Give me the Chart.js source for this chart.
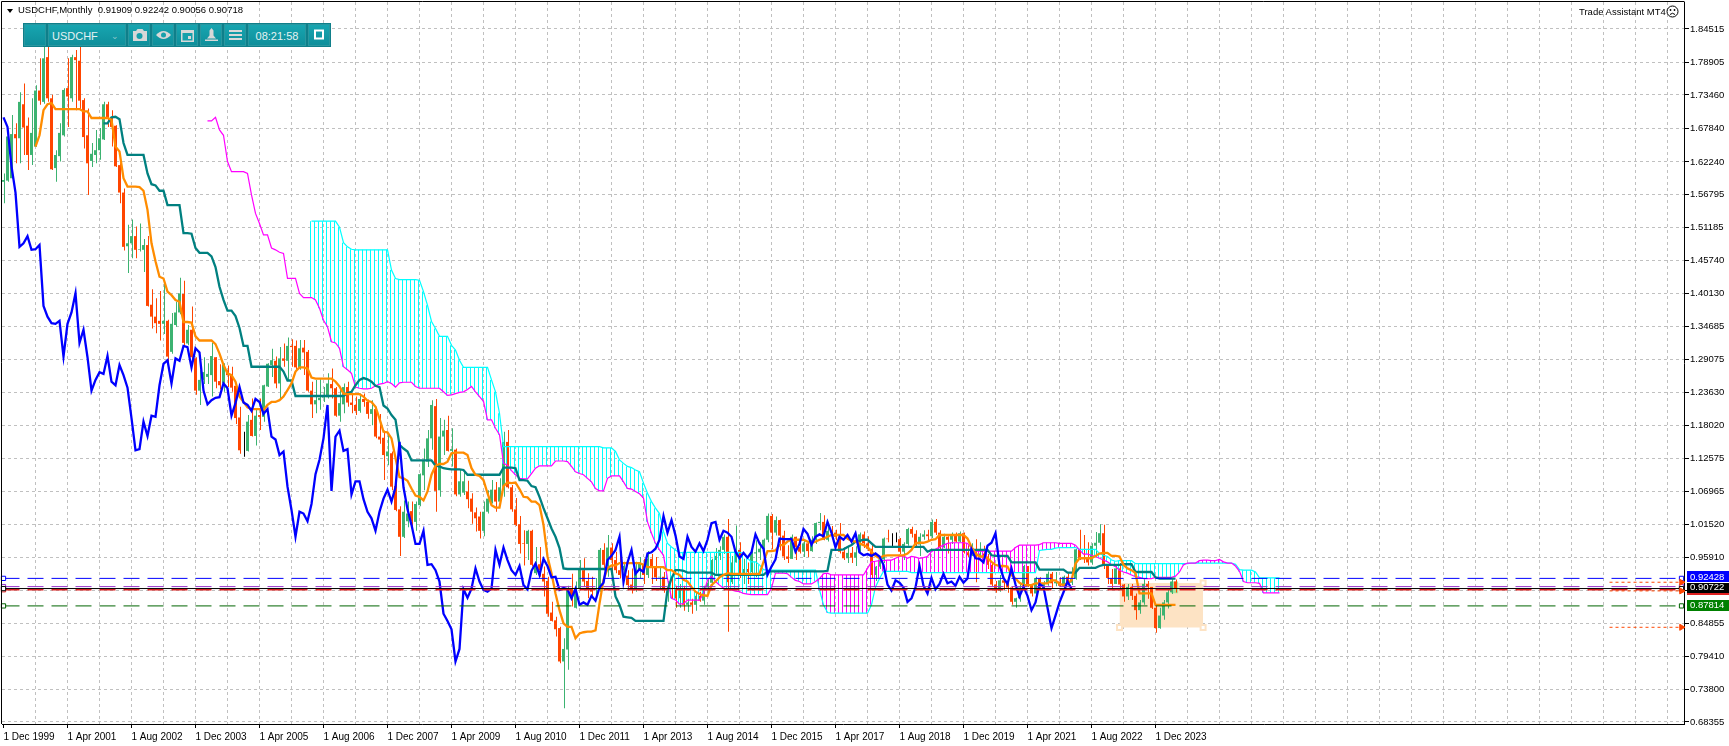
<!DOCTYPE html>
<html>
<head>
<meta charset="utf-8">
<title>USDCHF,Monthly</title>
<script src="https://cdn.jsdelivr.net/npm/chart.js@4/dist/chart.umd.js"></script>
<style>
  html, body { margin: 0; padding: 0; background: #fff; overflow: hidden; }
  #wrap { position: relative; width: 1729px; height: 746px; font-family: "Liberation Sans", sans-serif; }
  canvas { position: absolute; left: 0; top: 0; }
  .label { position: absolute; font-size: 9.5px; color: #000; white-space: pre; line-height: 12px; }
  #tri { position: absolute; left: 7px; top: 9px; width: 0; height: 0;
    border-left: 3.5px solid transparent; border-right: 3.5px solid transparent; border-top: 4px solid #000; }
  #frown { position: absolute; left: 1666px; top: 5px; }
  #bar { position: absolute; left: 23px; top: 23px; width: 308px; height: 24px; background: #0f7f8a; }
  #bar div { position: absolute; top: 1px; height: 22px; color: #e4f2f3; font-size: 11px; line-height: 22px;
    text-align: center; box-sizing: border-box; border: 1px solid #2a97a0;
    background: linear-gradient(#17a5b0, #0f8f9b); }
  #bar svg { display: block; margin: 3px auto 0; }
</style>
</head>
<body>
<div id="wrap">
  <canvas id="chart" width="1729" height="746"></canvas>
  <div id="tri"></div>
  <div class="label" style="left:18px;top:4px">USDCHF,Monthly  0.91909 0.92242 0.90056 0.90718</div>
  <div class="label" style="left:1579px;top:6px">Trade Assistant MT4</div>
  <svg id="frown" width="13" height="13"><circle cx="6.500" cy="6.500" r="5.500" fill="none" stroke="#000"/><circle cx="4.500" cy="5" r="0.900"/><circle cx="8.500" cy="5" r="0.900"/><path d="M4 9.500q2.500-2.500 5 0" fill="none" stroke="#000"/></svg>
  <div id="bar">
    <div style="left:1px;width:22px"></div>
    <div style="left:25px;width:78px;text-align:left;padding-left:3px">USDCHF<span style="position:absolute;right:6px;font-size:9px;color:#8fc7cc">⌄</span></div>
    <div style="left:105px;width:22px"><svg width="15" height="14"><path d="M1 3h3l1.500-2h5l1.500 2h3v10h-14z" fill="#d8d8d8"/><circle cx="7.500" cy="8" r="3" fill="#17a0ab"/></svg></div>
    <div style="left:129px;width:22px"><svg width="15" height="14"><path d="M0 7q7.500-8 15 0q-7.500 8-15 0z" fill="#d8d8d8"/><circle cx="7.500" cy="7" r="2.500" fill="#17a0ab"/></svg></div>
    <div style="left:153px;width:22px"><svg width="13" height="14"><path d="M0 2h13v12h-13z" fill="#d8d8d8"/><rect x="1.500" y="5" width="10" height="7.500" fill="#17a0ab"/><rect x="7" y="8" width="3" height="3" fill="#d8d8d8"/></svg></div>
    <div style="left:177px;width:22px"><svg width="13" height="14"><path d="M6.500 0l2 2.500v5l2.500 3h-9l2.500-3v-5zM0 11.500h13v1.500h-13z" fill="#d8d8d8"/></svg></div>
    <div style="left:201px;width:22px"><svg width="13" height="14"><path d="M0 2h13v2h-13zM0 6h13v2h-13zM0 10h13v2h-13z" fill="#d8d8d8"/></svg></div>
    <div style="left:225px;width:58px">08:21:58</div>
    <div style="left:285px;width:22px"><svg width="11" height="14"><rect x="1" y="2.500" width="8" height="8" fill="none" stroke="#fff" stroke-width="2"/></svg></div>
  </div>
</div>
<script>
"use strict";

const xLabels = ["1 Dec 1999", "1 Apr 2001", "1 Aug 2002", "1 Dec 2003", "1 Apr 2005", "1 Aug 2006", "1 Dec 2007",
  "1 Apr 2009", "1 Aug 2010", "1 Dec 2011", "1 Apr 2013", "1 Aug 2014", "1 Dec 2015", "1 Apr 2017", "1 Aug 2018",
  "1 Dec 2019", "1 Apr 2021", "1 Aug 2022", "1 Dec 2023"];
const yTicks = [1.84515, 1.78905, 1.73460, 1.67840, 1.62240, 1.56795, 1.51185, 1.45740, 1.40130, 1.34685, 1.29075,
  1.23630, 1.18020, 1.12575, 1.06965, 1.01520, 0.95910, 0.90465, 0.84855, 0.79410, 0.73800, 0.68355];

// monthly candles, bar 0 = Dec 1999
const opens = [
  1.589,1.591,1.595,1.669,1.662,1.719,1.683,1.634,1.648,1.742,
  1.723,1.798,1.729,1.612,1.632,1.667,1.746,1.729,1.798,1.792,
  1.726,1.667,1.624,1.634,1.642,1.660,1.719,1.697,1.683,1.617,
  1.571,1.481,1.486,1.498,1.475,1.475,1.483,1.383,1.363,1.356,
  1.351,1.356,1.304,1.349,1.370,1.401,1.318,1.341,1.293,1.239,
  1.257,1.262,1.265,1.295,1.255,1.251,1.273,1.267,1.247,1.194,
  1.141,1.138,1.190,1.163,1.198,1.195,1.246,1.282,1.289,1.251,
  1.293,1.289,1.314,1.314,1.278,1.311,1.304,1.239,1.216,1.223,
  1.227,1.228,1.250,1.243,1.197,1.216,1.245,1.219,1.215,1.205,
  1.225,1.220,1.200,1.208,1.162,1.160,1.129,1.134,1.079,1.040,
  .994,1.020,1.037,1.019,1.047,1.097,1.120,1.159,1.213,1.072,
  1.162,1.173,1.138,1.140,1.065,1.068,1.070,1.058,1.035,1.028,
  1.004,1.036,1.051,1.073,1.053,1.078,1.153,1.077,1.040,1.015,
  .983,.982,1.004,.933,.948,.932,.920,.867,.854,.841,
  .785,.805,.907,.875,.907,.938,.920,.906,.905,.905,
  .972,.944,.976,.955,.938,.938,.929,.914,.908,.937,
  .949,.930,.957,.945,.926,.927,.905,.908,.906,.891,
  .907,.880,.884,.880,.895,.887,.909,.917,.955,.962,
  .972,.994,.918,.951,.972,.932,.940,.935,.966,.968,
  .974,.989,1.029,1.001,1.022,.996,.961,.957,.994,.977,
  .969,.983,.970,.989,1.017,1.019,.989,1.004,1.001,.994,
  .969,.958,.967,.959,.968,.998,.983,.974,.930,.944,
  .956,.991,.990,.990,.990,.969,.982,1.007,.999,.981,
  .994,.998,.995,1.019,1.001,.976,.994,.989,.997,.986,
  1.000,.968,.963,.965,.962,.966,.961,.947,.914,.904,
  .921,.917,.909,.885,.891,.909,.945,.912,.899,.925,
  .906,.915,.932,.916,.919,.912,.927,.917,.924,.973,
  .958,.957,.951,.979,.984,1.000,.946,.925,.915,.941,
  .914,.894,.910,.895,.871,.884,.915,.910,.875,.841,
  .862,.884,.901,.91909];
const highs = [
  1.603,1.676,1.701,1.687,1.739,1.754,1.697,1.729,1.751,1.796,
  1.820,1.830,1.735,1.642,1.687,1.746,1.796,1.802,1.810,1.825,
  1.729,1.712,1.654,1.676,1.679,1.723,1.723,1.709,1.684,1.620,
  1.578,1.517,1.526,1.514,1.519,1.493,1.498,1.409,1.394,1.406,
  1.424,1.358,1.369,1.388,1.428,1.423,1.349,1.380,1.295,1.274,
  1.295,1.285,1.319,1.295,1.283,1.285,1.281,1.279,1.251,1.212,
  1.170,1.198,1.226,1.209,1.226,1.249,1.285,1.309,1.296,1.312,
  1.318,1.328,1.325,1.323,1.324,1.324,1.307,1.254,1.257,1.258,
  1.245,1.268,1.276,1.245,1.243,1.251,1.254,1.234,1.229,1.234,
  1.234,1.224,1.223,1.212,1.200,1.172,1.165,1.137,1.098,1.045,
  1.055,1.053,1.053,1.053,1.100,1.142,1.173,1.223,1.225,1.193,
  1.190,1.197,1.176,1.142,1.106,1.103,1.088,1.067,1.043,1.036,
  1.053,1.072,1.089,1.086,1.092,1.170,1.173,1.081,1.059,1.029,
  1.005,1.006,1.006,.977,.977,.944,.927,.885,.860,.843,
  .824,.912,.932,.919,.955,.958,.933,.927,.925,.975,
  .983,.997,.983,.969,.969,.952,.938,.941,.952,.960,
  .957,.970,.965,.960,.942,.935,.920,.925,.912,.915,
  .912,.890,.890,.900,.902,.912,.925,.957,.975,.978,
  .998,1.024,.962,1.013,.985,.957,.951,.970,.988,.985,
  .991,1.033,1.032,1.028,1.023,1.004,.980,.998,.994,.995,
  .990,.985,.995,1.018,1.034,1.030,1.014,1.012,1.006,1.017,
  .976,.979,.977,.978,1.001,1.003,.995,.981,.945,.960,
  .993,1.006,1.000,1.001,.992,.985,1.009,1.011,1.005,1.000,
  1.005,1.006,1.023,1.024,1.005,.999,.995,1.001,1.001,1.003,
  1.001,.980,.983,.990,.985,.979,.965,.951,.920,.930,
  .925,.920,.910,.892,.915,.947,.945,.915,.927,.926,
  .920,.936,.935,.935,.926,.929,.933,.943,.974,1.006,
  .997,.985,.983,1.002,1.015,1.014,.948,.940,.945,.950,
  .915,.915,.915,.899,.888,.923,.920,.910,.880,.875,
  .888,.907,.923,.92242];
const lows = [
  1.553,1.589,1.595,1.620,1.620,1.634,1.609,1.617,1.648,1.718,
  1.720,1.723,1.609,1.589,1.623,1.665,1.681,1.723,1.709,1.709,
  1.645,1.567,1.614,1.620,1.626,1.659,1.681,1.648,1.614,1.553,
  1.474,1.436,1.461,1.461,1.472,1.438,1.380,1.343,1.335,1.323,
  1.334,1.278,1.301,1.346,1.367,1.313,1.315,1.287,1.232,1.215,
  1.250,1.250,1.229,1.243,1.241,1.237,1.245,1.237,1.183,1.133,
  1.128,1.137,1.162,1.147,1.173,1.187,1.245,1.262,1.243,1.226,
  1.279,1.257,1.279,1.274,1.274,1.265,1.237,1.193,1.201,1.207,
  1.220,1.226,1.226,1.195,1.187,1.201,1.212,1.201,1.198,1.202,
  1.212,1.192,1.181,1.159,1.150,1.089,1.114,1.072,1.037,.962,
  .992,1.010,1.008,1.004,1.045,1.072,1.111,1.140,1.036,1.061,
  1.131,1.137,1.112,1.062,1.061,1.064,1.042,1.016,1.003,.991,
  .995,1.033,1.050,1.036,1.050,1.061,1.075,1.036,1.012,.966,
  .946,.955,.944,.930,.927,.894,.860,.852,.827,.782,
  .7065,.771,.877,.874,.905,.910,.891,.894,.896,.902,
  .938,.927,.933,.933,.924,.927,.908,.899,.902,.925,
  .915,.925,.915,.920,.905,.900,.885,.890,.875,.875,
  .870,.868,.865,.870,.885,.880,.903,.912,.932,.955,
  .965,.835,.915,.951,.925,.915,.915,.930,.926,.955,
  .950,.985,.973,.996,.971,.955,.950,.957,.955,.966,
  .960,.960,.969,.982,1.005,.988,.986,.990,.988,.966,
  .955,.950,.950,.945,.967,.975,.970,.925,.920,.940,
  .950,.985,.975,.985,.965,.955,.979,.993,.975,.962,
  .989,.988,.992,.997,.972,.975,.966,.982,.985,.985,
  .966,.960,.962,.918,.960,.961,.940,.911,.900,.902,
  .905,.900,.880,.875,.885,.905,.910,.894,.895,.905,
  .902,.912,.908,.911,.910,.905,.915,.913,.922,.955,
  .950,.946,.947,.960,.980,.940,.915,.906,.915,.905,
  .885,.888,.888,.855,.865,.880,.890,.873,.833,.840,
  .855,.874,.898,.90056];
const closes = [
  1.592,1.665,1.669,1.662,1.723,1.680,1.634,1.671,1.742,1.725,
  1.796,1.729,1.610,1.634,1.671,1.743,1.732,1.798,1.793,1.725,
  1.664,1.620,1.636,1.642,1.662,1.719,1.697,1.681,1.615,1.571,
  1.480,1.486,1.498,1.475,1.476,1.483,1.381,1.363,1.352,1.351,
  1.356,1.296,1.351,1.370,1.402,1.319,1.341,1.295,1.239,1.257,
  1.270,1.267,1.297,1.254,1.248,1.282,1.265,1.244,1.193,1.139,
  1.141,1.187,1.163,1.197,1.195,1.248,1.284,1.290,1.251,1.293,
  1.289,1.314,1.312,1.278,1.310,1.303,1.239,1.216,1.223,1.227,
  1.228,1.251,1.243,1.197,1.218,1.245,1.219,1.215,1.205,1.225,
  1.220,1.200,1.208,1.162,1.157,1.131,1.137,1.078,1.039,.994,
  1.036,1.033,1.020,1.049,1.099,1.123,1.159,1.215,1.071,1.162,
  1.172,1.138,1.141,1.065,1.087,1.087,1.057,1.036,1.025,1.004,
  1.036,1.058,1.073,1.053,1.077,1.153,1.077,1.040,1.014,.982,
  .982,1.004,.947,.948,.938,.919,.865,.853,.839,.785,
  .806,.906,.892,.907,.941,.919,.905,.902,.907,.972,
  .947,.976,.955,.938,.930,.945,.913,.906,.937,.949,
  .930,.957,.945,.926,.927,.905,.908,.906,.891,.907,
  .880,.884,.880,.895,.887,.909,.917,.955,.962,.972,
  .994,.918,.951,.972,.932,.940,.935,.966,.968,.974,
  .989,1.029,1.001,1.022,.996,.961,.957,.994,.977,.969,
  .983,.970,.989,1.017,1.019,.989,1.004,1.001,.994,.969,
  .958,.967,.959,.968,.998,.983,.974,.930,.944,.956,
  .991,.990,.990,.990,.969,.982,1.007,.999,.981,.994,
  .998,.995,1.019,1.001,.976,.994,.989,.997,.986,1.000,
  .968,.963,.965,.962,.966,.961,.947,.914,.904,.921,
  .917,.909,.885,.891,.909,.945,.912,.899,.925,.906,
  .915,.932,.916,.919,.912,.927,.917,.924,.973,.958,
  .957,.951,.979,.984,1.000,.946,.925,.915,.941,.914,
  .894,.910,.895,.871,.884,.915,.910,.875,.841,.862,
  .884,.901,.919,.90718];

// blue line, starts at bar 0
const chikou = [
  1.697,1.681,1.615,1.571,1.480,1.486,1.498,1.475,1.476,1.483,
  1.381,1.363,1.352,1.351,1.356,1.296,1.351,1.370,1.402,1.319,
  1.341,1.295,1.239,1.257,1.270,1.267,1.297,1.254,1.248,1.282,
  1.265,1.244,1.193,1.139,1.141,1.187,1.163,1.197,1.195,1.248,
  1.284,1.290,1.251,1.293,1.289,1.314,1.312,1.278,1.310,1.303,
  1.239,1.216,1.223,1.227,1.228,1.251,1.243,1.197,1.218,1.245,
  1.219,1.215,1.205,1.225,1.220,1.200,1.208,1.162,1.157,1.131,
  1.137,1.078,1.039,.994,1.036,1.033,1.020,1.049,1.099,1.123,
  1.159,1.215,1.071,1.162,1.172,1.138,1.141,1.065,1.087,1.087,
  1.057,1.036,1.025,1.004,1.036,1.058,1.073,1.053,1.077,1.153,
  1.077,1.040,1.014,.982,.982,1.004,.947,.948,.938,.919,
  .865,.853,.839,.785,.806,.906,.892,.907,.941,.919,
  .905,.902,.907,.972,.947,.976,.955,.938,.930,.945,
  .913,.906,.937,.949,.930,.957,.945,.926,.927,.905,
  .908,.906,.891,.907,.880,.884,.880,.895,.887,.909,
  .917,.955,.962,.972,.994,.918,.951,.972,.932,.940,
  .935,.966,.968,.974,.989,1.029,1.001,1.022,.996,.961,
  .957,.994,.977,.969,.983,.970,.989,1.017,1.019,.989,
  1.004,1.001,.994,.969,.958,.967,.959,.968,.998,.983,
  .974,.930,.944,.956,.991,.990,.990,.990,.969,.982,
  1.007,.999,.981,.994,.998,.995,1.019,1.001,.976,.994,
  .989,.997,.986,1.000,.968,.963,.965,.962,.966,.961,
  .947,.914,.904,.921,.917,.909,.885,.891,.909,.945,
  .912,.899,.925,.906,.915,.932,.916,.919,.912,.927,
  .917,.924,.973,.958,.957,.951,.979,.984,1.000,.946,
  .925,.915,.941,.914,.894,.910,.895,.871,.884,.915,
  .910,.875,.841,.862,.884,.901,.919,.907];

// orange line, starts at bar 8
const tenkan = [
  1.648,1.667,1.709,1.719,1.721,1.711,1.711,1.711,1.711,1.711,
  1.711,1.711,1.707,1.707,1.696,1.696,1.696,1.696,1.696,1.693,
  1.648,1.640,1.595,1.581,1.581,1.581,1.580,1.574,1.542,1.486,
  1.456,1.430,1.427,1.405,1.399,1.391,1.388,1.354,1.354,1.353,
  1.330,1.323,1.323,1.323,1.323,1.317,1.301,1.282,1.268,1.265,
  1.254,1.229,1.220,1.211,1.208,1.208,1.208,1.206,1.215,1.220,
  1.220,1.223,1.229,1.240,1.251,1.271,1.278,1.278,1.276,1.261,
  1.259,1.259,1.259,1.259,1.259,1.254,1.246,1.234,1.233,1.233,
  1.233,1.233,1.229,1.222,1.220,1.212,1.192,1.170,1.169,1.159,
  1.126,1.094,1.092,1.088,1.075,1.063,1.061,1.055,1.070,1.098,
  1.113,1.116,1.116,1.120,1.134,1.135,1.135,1.135,1.131,1.109,
  1.098,1.096,1.089,1.067,1.047,1.043,1.043,1.079,1.085,1.084,
  1.085,1.074,1.061,1.060,1.053,1.053,1.047,1.014,.961,.933,
  .899,.871,.849,.843,.843,.824,.832,.834,.835,.835,
  .837,.882,.922,.941,.946,.946,.950,.950,.950,.950,
  .950,.950,.947,.943,.943,.943,.943,.943,.938,.938,
  .933,.930,.922,.919,.910,.902,.898,.896,.895,.913,
  .919,.926,.930,.933,.932,.932,.932,.932,.932,.932,
  .932,.932,.952,.970,.970,.971,.980,.980,.986,.989,
  .989,.989,.989,.986,.984,.986,.989,.991,.994,.997,
  .997,.997,.997,.991,.987,.986,.983,.980,.977,.969,
  .962,.958,.962,.963,.963,.963,.963,.963,.966,.972,
  .983,.984,.984,.986,.989,.990,.997,.997,.997,.997,
  .997,.997,.997,.991,.977,.966,.961,.961,.958,.952,
  .947,.945,.945,.944,.930,.924,.917,.913,.913,.913,
  .916,.916,.916,.916,.921,.921,.915,.913,.916,.921,
  .949,.958,.958,.958,.958,.962,.966,.967,.967,.962,
  .962,.961,.947,.941,.938,.933,.899,.899,.899,.899,
  .880,.880,.880,.880,.880,.880];

// teal line, starts at bar 25
const kijun = [
  1.687,1.687,1.697,1.698,1.694,1.654,1.634,1.634,1.634,1.634,
  1.634,1.603,1.585,1.583,1.574,1.574,1.550,1.550,1.550,1.550,
  1.503,1.503,1.502,1.478,1.470,1.470,1.470,1.464,1.446,1.413,
  1.391,1.373,1.373,1.364,1.344,1.314,1.314,1.279,1.279,1.279,
  1.279,1.279,1.279,1.279,1.279,1.271,1.256,1.256,1.230,1.230,
  1.230,1.230,1.230,1.230,1.230,1.230,1.230,1.230,1.230,1.230,
  1.230,1.235,1.237,1.248,1.257,1.260,1.258,1.254,1.247,1.245,
  1.214,1.209,1.198,1.190,1.148,1.142,1.137,1.122,1.122,1.122,
  1.122,1.122,1.122,1.113,1.112,1.109,1.108,1.107,1.107,1.107,
  1.106,1.098,1.098,1.098,1.098,1.098,1.098,1.098,1.098,1.098,
  1.110,1.110,1.110,1.109,1.089,1.089,1.088,1.079,1.077,1.061,
  1.042,1.025,1.008,.994,.975,.941,.940,.940,.940,.940,
  .940,.940,.940,.940,.940,.940,.940,.940,.894,.880,
  .860,.859,.858,.853,.853,.853,.853,.853,.853,.853,
  .853,.905,.924,.938,.938,.937,.934,.934,.934,.934,
  .934,.934,.934,.930,.930,.930,.930,.930,.930,.930,
  .930,.930,.930,.930,.930,.930,.936,.936,.936,.936,
  .936,.936,.936,.936,.936,.936,.936,.936,.936,.936,
  .936,.937,.972,.972,.972,.973,.977,.980,.986,.987,
  .989,.989,.983,.977,.977,.977,.977,.977,.977,.977,
  .977,.977,.977,.977,.977,.977,.969,.972,.972,.972,
  .972,.972,.972,.972,.972,.972,.972,.972,.972,.972,
  .972,.972,.963,.962,.962,.962,.962,.951,.951,.951,
  .951,.951,.951,.951,.939,.939,.939,.939,.939,.939,
  .939,.934,.934,.934,.942,.942,.942,.942,.942,.945,
  .947,.947,.947,.947,.947,.948,.948,.948,.935,.935,
  .935,.935,.935,.926,.924,.924,.924,.924,.924];

// magenta cloud edge, starts at bar 51
const spanMagenta = [
  1.691,1.691,1.697,1.676,1.667,1.623,1.606,1.606,1.606,1.606,
  1.603,1.567,1.536,1.519,1.500,1.500,1.478,1.475,1.471,1.469,
  1.427,1.427,1.427,1.402,1.395,1.395,1.395,1.391,1.377,1.357,
  1.346,1.321,1.319,1.310,1.279,1.274,1.268,1.245,1.243,1.242,
  1.242,1.243,1.247,1.250,1.251,1.254,1.251,1.245,1.252,1.253,
  1.253,1.253,1.246,1.243,1.243,1.243,1.243,1.243,1.243,1.237,
  1.231,1.232,1.234,1.236,1.237,1.241,1.246,1.237,1.229,1.221,
  1.190,1.190,1.176,1.165,1.117,1.114,1.105,1.098,1.092,1.091,
  1.091,1.100,1.109,1.113,1.113,1.113,1.113,1.121,1.121,1.121,
  1.120,1.112,1.103,1.100,1.098,1.092,1.086,1.075,1.071,1.071,
  1.092,1.096,1.096,1.096,1.086,1.075,1.074,1.070,1.066,1.059,
  1.019,1.000,.983,.972,.963,.924,.891,.888,.881,.882,
  .888,.888,.888,.888,.899,.921,.928,.919,.913,.908,
  .906,.905,.903,.902,.899,.898,.897,.897,.897,.897,
  .897,.908,.933,.933,.933,.932,.926,.921,.919,.915,
  .915,.915,.919,.924,.932,.933,.930,.930,.930,.930,
  .930,.930,.930,.930,.930,.941,.952,.953,.954,.954,
  .955,.955,.958,.961,.962,.958,.961,.960,.958,.959,
  .961,.969,.973,.977,.980,.983,.984,.984,.984,.984,
  .983,.975,.970,.970,.970,.970,.970,.970,.970,.970,
  .970,.970,.976,.980,.980,.980,.980,.980,.981,.984,
  .984,.984,.984,.983,.983,.983,.983,.980,.972,.965,
  .965,.963,.961,.958,.955,.952,.947,.944,.938,.935,
  .933,.930,.927,.926,.924,.924,.924,.926,.926,.926,
  .926,.926,.928,.935,.947,.950,.950,.950,.954,.955,
  .955,.954,.954,.956,.952,.950,.950,.945,.936,.919,
  .917,.917,.917,.916,.900,.900,.900,.900,.900];

// cyan cloud edge, starts at bar 77
const spanCyan = [
  1.523,1.523,1.523,1.523,1.523,1.523,1.523,1.513,1.487,1.480,
  1.476,1.475,1.475,1.475,1.475,1.475,1.475,1.475,1.475,1.475,
  1.441,1.427,1.425,1.425,1.425,1.425,1.425,1.424,1.405,1.382,
  1.355,1.343,1.330,1.330,1.330,1.315,1.307,1.290,1.278,1.278,
  1.278,1.278,1.278,1.278,1.278,1.257,1.237,1.201,1.145,1.145,
  1.145,1.145,1.145,1.145,1.145,1.145,1.145,1.145,1.145,1.145,
  1.145,1.145,1.145,1.145,1.145,1.145,1.145,1.145,1.145,1.145,
  1.145,1.145,1.145,1.143,1.143,1.143,1.137,1.123,1.117,1.112,
  1.110,1.106,1.103,1.084,1.067,1.053,1.042,1.033,1.003,.983,
  .977,.972,.967,.968,.968,.968,.968,.968,.968,.968,
  .968,.968,.968,.968,.968,.968,.968,.968,.966,.958,
  .952,.952,.947,.939,.938,.938,.938,.938,.938,.938,
  .938,.938,.938,.938,.938,.938,.938,.905,.880,.867,
  .866,.866,.866,.866,.866,.866,.866,.866,.866,.866,
  .880,.910,.924,.936,.936,.936,.936,.936,.936,.936,
  .934,.934,.934,.934,.934,.934,.934,.934,.934,.934,
  .934,.934,.934,.934,.934,.934,.934,.934,.934,.934,
  .934,.934,.934,.934,.934,.934,.934,.934,.934,.934,
  .934,.934,.971,.972,.973,.973,.975,.976,.976,.976,
  .976,.976,.973,.973,.973,.973,.973,.966,.963,.961,
  .955,.953,.954,.954,.954,.954,.949,.949,.949,.949,
  .949,.949,.949,.949,.949,.949,.949,.949,.949,.949,
  .950,.950,.950,.950,.950,.950,.950,.950,.950,.950,
  .950,.948,.939,.938,.938,.938,.935,.925,.925,.925,
  .925,.925,.925];

const boxTop = 0.9165, boxBottom = 0.8418, boxFrom = 279, boxTo = 299.9;
const greenBoxTop = 0.9190, greenBoxBottom = 0.8995, greenBoxFrom = 291.8, greenBoxTo = 293.7;

const priceBlue = 0.92428, pricePurple = 0.9105, priceRed = 0.9052, priceBid = 0.90722, priceGreen = 0.87814;
const arrowLevels = [0.9178, 0.9033, 0.8423];

const UP = "#3cb371", DOWN = "#ff4500", BLUE = "#0000ff", ORANGE = "#ff8c00", TEAL = "#008080";
const CYAN = "#00ffff", MAGENTA = "#ff00ff", PEACH = "#fde3c4";
const GRID = "#c0c0c0";
const LEVEL_DASH = [16, 8];

// bar i is 4 px wide, bar 0 sits at x = 3.5; plot runs 2..1684 and 2..724
const xMin = -0.375, xMax = 420.125;
const yPerPx = (1.84515 - 0.68355) / 693;
const yMax = 1.84515 + 27 * yPerPx, yMin = 0.68355 - 2 * yPerPx;

const series = (vals, start) => vals.map((v, k) => ({ x: start + k, y: v }));
const candleColor = (i) => closes[i] === opens[i] ? "#000" : closes[i] > opens[i] ? UP : DOWN;

function lineSet(vals, start, color, width, order) {
  return { type: "line", data: series(vals, start), borderColor: color, borderWidth: width,
    pointRadius: 0, tension: 0, order, borderJoinStyle: "miter" };
}

function levelSet(y, color, width, dash, order) {
  return { type: "line", data: [{ x: 0, y }, { x: 419.5, y }], borderColor: color, borderWidth: width, borderDash: dash,
    pointStyle: "rect", pointRadius: 3, pointBackgroundColor: "#fff", pointBorderColor: color, pointBorderWidth: 1,
    tension: 0, order, clip: false };
}

function boxSet(from, to, top, bottom, color, order) {
  return { type: "line", data: [{ x: from, y: top }, { x: to, y: top }], borderWidth: 0, pointRadius: 0, tension: 0,
    backgroundColor: color, fill: { value: bottom }, order };
}

const hatch = spanCyan.map((v, k) => {
  const m = spanMagenta[k + 26];
  return { x: 77 + k, y: [Math.min(v, m), Math.max(v, m)], c: v >= m ? CYAN : MAGENTA };
});

const idx = closes.map((_, i) => i);
const datasets = [
  boxSet(boxFrom, boxTo, boxTop, boxBottom, PEACH, 50),
  boxSet(greenBoxFrom, greenBoxTo, greenBoxTop, greenBoxBottom, "#a8e6a0", 49),
  { type: "line", data: [{ x: boxFrom, y: boxBottom }, { x: boxTo, y: boxBottom }, { x: boxTo, y: boxTop }],
    showLine: false, pointStyle: "rect", pointRadius: 3.5, pointBackgroundColor: "#fff", pointBorderColor: PEACH,
    pointBorderWidth: 2, order: 48 },
  { type: "bar", data: idx.map((i) => ({ x: i, y: [lows[i], highs[i]] })), barThickness: 1, inflateAmount: 0,
    backgroundColor: idx.map(candleColor), order: 40 },
  { type: "bar", data: idx.map((i) => ({ x: i, y: [Math.min(opens[i], closes[i]), Math.max(opens[i], closes[i])] })),
    barThickness: 3, inflateAmount: 0, backgroundColor: idx.map(candleColor), order: 39 },
  { type: "bar", data: hatch, barThickness: 1, inflateAmount: 0, backgroundColor: hatch.map((h) => h.c), order: 30 },
  lineSet(spanCyan, 77, CYAN, 1.2, 20),
  lineSet(spanMagenta, 51, MAGENTA, 1.2, 19),
  lineSet(kijun, 25, TEAL, 2.3, 18),
  lineSet(tenkan, 8, ORANGE, 2.3, 17),
  lineSet(chikou, 0, BLUE, 2.3, 16),
  levelSet(priceBlue, BLUE, 1, LEVEL_DASH, 9),
  levelSet(priceRed, "#e02020", 1.5, LEVEL_DASH, 8),
  levelSet(pricePurple, "#9932cc", 1, LEVEL_DASH, 7),
  levelSet(priceGreen, "#006400", 1, LEVEL_DASH, 6),
  levelSet(priceBid, "#000", 1, [], 5),
];
arrowLevels.forEach((y) => datasets.push({
  type: "line", data: [{ x: 401.5, y }, { x: 419.5, y }], borderColor: DOWN, borderWidth: 1, borderDash: [3, 3],
  pointStyle: "triangle", rotation: 90, pointRadius: [0, 3.5], pointBackgroundColor: DOWN, pointBorderColor: DOWN,
  tension: 0, order: 4, clip: false,
}));

const priceTags = [
  { v: priceBlue, up: 7, down: 4, bg: BLUE, text: "0.92428" },
  { v: pricePurple, up: 2, down: 1, bg: "#9932cc" },
  { v: priceRed, up: -3, down: 5, bg: "#e02020" },
  { v: priceBid, up: 6, down: 4, bg: "#000", text: "0.90722" },
  { v: priceGreen, up: 6, down: 5, bg: "#008000", text: "0.87814" },
];

// border of the chart window and the coloured price tags on the axis
const chartFrame = {
  id: "chartFrame",
  afterDraw(chart) {
    const { ctx, chartArea: a, scales } = chart;
    ctx.save();
    ctx.strokeStyle = "#000";
    ctx.lineWidth = 1;
    ctx.beginPath();
    ctx.moveTo(a.left - 0.5, a.bottom);
    ctx.lineTo(a.left - 0.5, a.top - 0.5);
    ctx.lineTo(a.right + 0.5, a.top - 0.5);
    ctx.stroke();
    ctx.font = '9.5px "Liberation Sans"';
    ctx.textBaseline = "middle";
    priceTags.forEach((t) => {
      const y = scales.y.getPixelForValue(t.v);
      ctx.fillStyle = t.bg;
      ctx.fillRect(a.right + 3, Math.round(y - t.up), 42, t.up + t.down);
      if (t.text) {
        ctx.fillStyle = "#fff";
        ctx.fillText(t.text, a.right + 6, y - t.up + (t.up + t.down) / 2);
      }
    });
    ctx.restore();
  },
};

// stop the layout reserving room for half of the first and last tick label
function fixAxisSize(s, key, size) {
  s[key] = size;
  s.paddingLeft = s.paddingRight = s.paddingTop = s.paddingBottom = 0;
}

Chart.defaults.font.family = '"Liberation Sans", sans-serif';
Chart.defaults.font.size = 9.5;
Chart.defaults.color = "#000";

new Chart(document.getElementById("chart"), {
  type: "bar",
  data: { datasets },
  plugins: [chartFrame],
  options: {
    responsive: false,
    animation: false,
    events: [],
    layout: { autoPadding: false, padding: { left: 2, top: 2, right: 0, bottom: 0 } },
    plugins: { legend: { display: false }, tooltip: { enabled: false } },
    scales: {
      x: {
        type: "linear", min: xMin, max: xMax, offset: false,
        afterBuildTicks(s) {
          s.ticks = [];
          for (let v = 0; v <= 416; v += 8) s.ticks.push({ value: v });
        },
        afterFit(s) { fixAxisSize(s, "height", 22); },
        grid: {
          color: (c) => c.tick && c.tick.value > 0 ? GRID : "transparent",
          offset: false, tickLength: 4,
          tickColor: (c) => c.tick && c.tick.value % 16 === 0 && c.tick.value <= 288 ? "#000" : "transparent",
        },
        border: { display: true, color: "#000", dash: [3, 3], width: 1 },
        ticks: {
          autoSkip: false, maxRotation: 0, align: "start", padding: 3, font: { size: 10 },
          callback: (v) => (v % 16 === 0 && v / 16 < xLabels.length ? xLabels[v / 16] : ""),
        },
      },
      y: {
        type: "linear", position: "right", min: yMin, max: yMax,
        afterBuildTicks(s) { s.ticks = yTicks.map((v) => ({ value: v })); },
        afterFit(s) { fixAxisSize(s, "width", 45); },
        grid: { color: GRID, tickLength: 5, tickColor: "#000" },
        border: { display: true, color: "#000", dash: [3, 3], width: 1 },
        ticks: { autoSkip: false, padding: 1, callback: (v) => v.toFixed(5) },
      },
    },
  },
});
</script>
</body>
</html>
